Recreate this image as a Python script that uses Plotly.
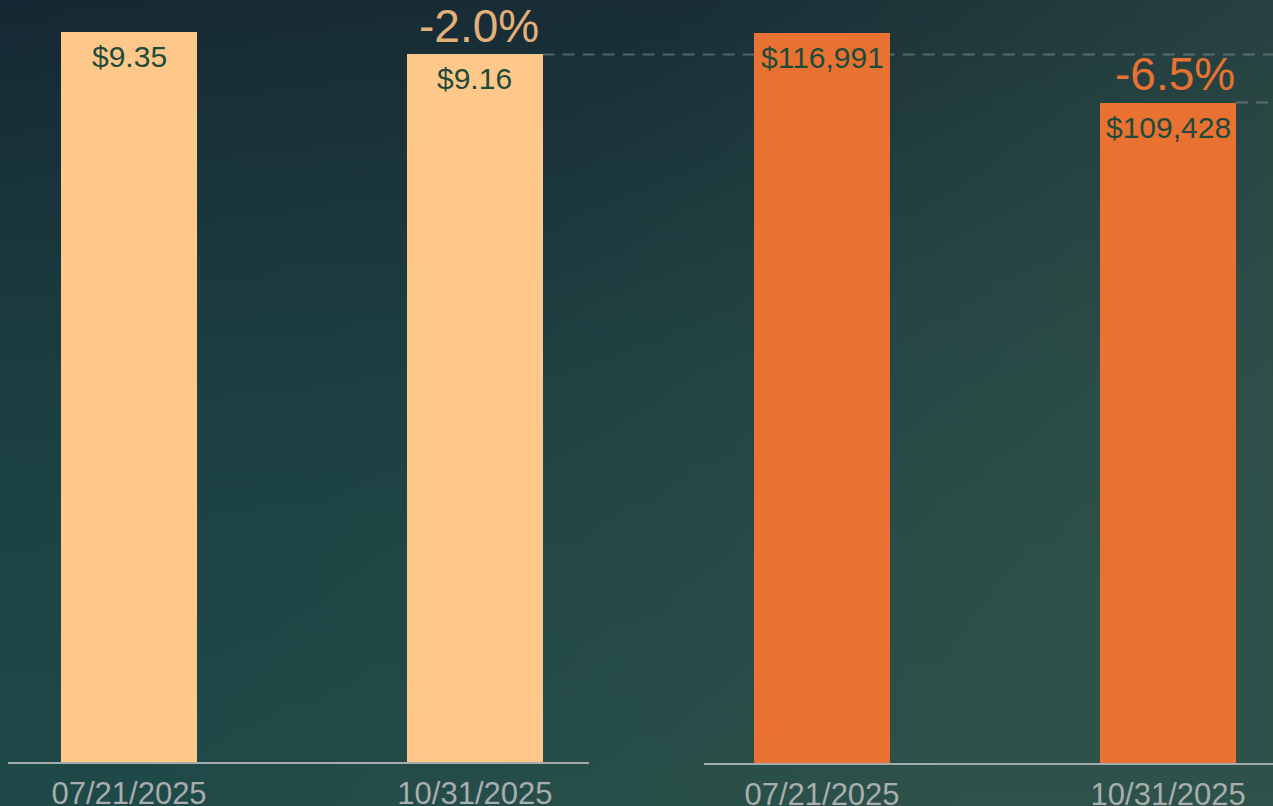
import base64
import plotly.graph_objects as go
from plotly.subplots import make_subplots

# ---- data ----
dates = ["07/21/2025", "10/31/2025"]
price_values = [9.35, 9.16]
price_labels = ["$9.35", "$9.16"]
price_change = "-2.0%"
total_values = [116991, 109428]
total_labels = ["$116,991", "$109,428"]
total_change = "-6.5%"

# ---- styles ----
FONT = "Liberation Sans, Arial, sans-serif"
LIGHT = "#FEC88A"
ORANGE = "#E97232"
LIGHT_TXT = "#E4B07A"
LABEL_TXT = "#1F4A3A"
TICK_TXT = "#A8ADAD"
AXIS_LINE = "#A3ABAB"
DASH = "rgba(150,165,165,0.45)"
W, H = 1273, 806
BAR_W = 0.393

left_dom = [8 / W, 589 / W]
right_dom = [704 / W, 1.0]
left_rng = [-0.35, 1.33]
right_rng = [-0.341, 1.303]

fig = make_subplots(rows=1, cols=2)

fig.add_trace(go.Bar(x=dates, y=price_values, marker_color=LIGHT, width=BAR_W,
                     marker_line_width=0, hoverinfo="skip"), row=1, col=1)
fig.add_trace(go.Bar(x=dates, y=total_values, marker_color=ORANGE, width=BAR_W,
                     marker_line_width=0, hoverinfo="skip"), row=1, col=2)

def yrange(vals):
    m = max(vals)
    return [m * 0.326, m * 1.03]

axis_common = dict(type="category", showgrid=False, zeroline=False, showline=True,
                   linecolor=AXIS_LINE, linewidth=2, ticks="outside", ticklen=3,
                   tickcolor="rgba(0,0,0,0)", automargin=False,
                   tickfont=dict(family=FONT, size=31, color=TICK_TXT))
fig.update_xaxes(domain=left_dom, range=left_rng, **axis_common, row=1, col=1)
fig.update_xaxes(domain=right_dom, range=right_rng, **axis_common, row=1, col=2)
fig.update_yaxes(domain=[44 / H, 1.0], range=yrange(price_values), visible=False, row=1, col=1)
fig.update_yaxes(domain=[43 / H, 1.0], range=yrange(total_values), visible=False, row=1, col=2)

annotations = []
for xref, yref, vals, labs in (("x", "y", price_values, price_labels),
                               ("x2", "y2", total_values, total_labels)):
    for d, v, lab in zip(dates, vals, labs):
        annotations.append(dict(x=d, y=v, xref=xref, yref=yref, text=lab, showarrow=False,
                                yanchor="top", yshift=-6,
                                font=dict(family=FONT, size=30, color=LABEL_TXT)))
annotations.append(dict(x=dates[1], y=price_values[1], xref="x", yref="y", text=price_change,
                        showarrow=False, yanchor="bottom", yshift=0, xshift=4,
                        font=dict(family=FONT, size=46, color=LIGHT_TXT)))
annotations.append(dict(x=dates[1], y=total_values[1], xref="x2", yref="y2", text=total_change,
                        showarrow=False, yanchor="bottom", yshift=1, xshift=7,
                        font=dict(family=FONT, size=46, color=ORANGE)))

def paper_x(dom, rng, xval):
    return dom[0] + (xval - rng[0]) / (rng[1] - rng[0]) * (dom[1] - dom[0])

shapes = [
    dict(type="line", xref="paper", yref="y", layer="below",
         x0=paper_x(left_dom, left_rng, 1 + BAR_W / 2), x1=1.0,
         y0=price_values[1], y1=price_values[1],
         line=dict(color=DASH, width=2, dash="12px,8px")),
    dict(type="line", xref="paper", yref="y2", layer="below",
         x0=paper_x(right_dom, right_rng, 1 + BAR_W / 2), x1=1.0,
         y0=total_values[1], y1=total_values[1],
         line=dict(color=DASH, width=2, dash="12px,8px")),
]

svg = f"""<svg xmlns='http://www.w3.org/2000/svg' width='{W}' height='{H}'>
<defs>
<linearGradient id='v' x1='0' y1='0' x2='0' y2='1'>
<stop offset='0' stop-color='#152833'/>
<stop offset='0.5' stop-color='#1A3E41'/>
<stop offset='1' stop-color='#1C4848'/>
</linearGradient>
<linearGradient id='h' x1='0' y1='0' x2='1' y2='0.45'>
<stop offset='0' stop-color='#3A5A4A' stop-opacity='0'/>
<stop offset='0.45' stop-color='#34544A' stop-opacity='0.12'/>
<stop offset='1' stop-color='#34554A' stop-opacity='0.75'/>
</linearGradient>
</defs>
<rect width='{W}' height='{H}' fill='url(#v)'/>
<rect width='{W}' height='{H}' fill='url(#h)'/>
</svg>"""
src = "data:image/svg+xml;base64," + base64.b64encode(svg.encode()).decode()

fig.update_layout(
    width=W, height=H, margin=dict(l=0, r=0, t=0, b=0, autoexpand=False),
    paper_bgcolor="#1D3D40", plot_bgcolor="rgba(0,0,0,0)",
    showlegend=False, bargap=0,
    annotations=annotations, shapes=shapes,
    images=[dict(source=src, xref="paper", yref="paper", x=0, y=1, sizex=1, sizey=1,
                 xanchor="left", yanchor="top", sizing="stretch", layer="below")],
)

fig.write_html("out.html", config={"displayModeBar": False},
               post_script="document.body.style.margin='0';document.body.style.overflow='hidden';")
